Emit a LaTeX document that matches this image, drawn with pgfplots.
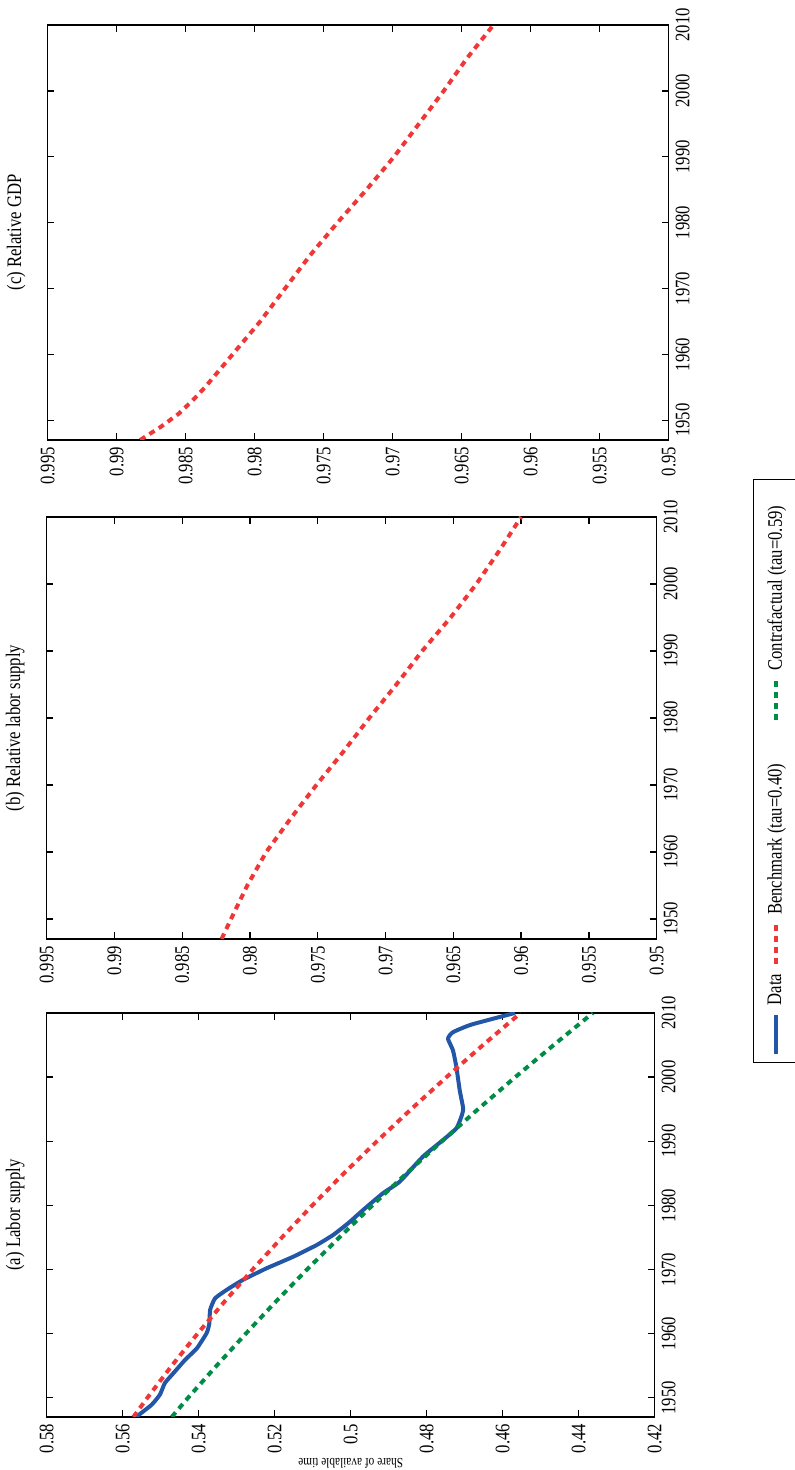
\documentclass[border=0pt]{standalone}
\usepackage{graphicx}
\usepackage{fontspec}
\setmainfont{Liberation Serif}[FakeStretch=0.81]
\usepackage{pgfplots}
\pgfplotsset{compat=1.18}
\definecolor{cblue}{RGB}{33,87,166}
\definecolor{cred}{RGB}{240,55,55}
\definecolor{cgreen}{RGB}{0,140,70}
\pgfplotsset{
  myax/.style={
    scale only axis, anchor=north west,
    xmin=1947, xmax=2010,
    xtick={1950,1960,1970,1980,1990,2000,2010},
    xticklabels={1950,1960,1970,1980,1990,2000,2010},
    axis line style={line width=0.65pt, black},
    every tick/.style={black, line width=0.65pt},
    major tick length=3.3pt,
    tick align=inside,
    title style={at={(0.5,1)}, anchor=center, yshift=9.8pt, font=\fontsize{10.3}{12}\selectfont},
    tick label style={font=\fontsize{10.3}{12}\selectfont},
    legend image code/.code={\draw[#1] (0pt,0pt) -- (19.5pt,0pt);},
  },
  rel/.style={ymin=0.95, ymax=0.995,
    ytick={0.95,0.955,0.96,0.965,0.97,0.975,0.98,0.985,0.99,0.995},
    yticklabels={0.95,0.955,0.96,0.965,0.97,0.975,0.98,0.985,0.99,0.995}},
  datast/.style={cblue, line width=2pt, line join=round},
  benchst/.style={cred, line width=2pt, dash pattern=on 3pt off 2.5pt},
  contst/.style={cgreen, line width=2pt, dash pattern=on 3pt off 2.5pt},
}
\begin{document}
\rotatebox{90}{%
\begin{tikzpicture}
\useasboundingbox (0pt,0pt) rectangle (735pt,-397.5pt);
% (a) Labor supply
\begin{axis}[myax, at={(26.5pt,-23.35pt)}, width=202pt, height=304pt,
  ymin=0.42, ymax=0.58,
  ytick={0.42,0.44,0.46,0.48,0.5,0.52,0.54,0.56,0.58},
  yticklabels={0.42,0.44,0.46,0.48,0.5,0.52,0.54,0.56,0.58},
  title={(a) Labor supply},
  ylabel={Share of available time},
  ylabel style={at={(axis description cs:-0.114,0.5)}, anchor=center, font=\fontsize{7}{8}\selectfont},
  legend columns=3,
  legend style={at={(0.876,-0.161)}, anchor=north west, draw=black, line width=0.65pt,
    inner xsep=3pt, inner ysep=7pt, nodes={inner sep=0pt, text depth=0.15em},
    column sep=4pt, font=\fontsize{10.3}{12}\selectfont},
]
\addplot[datast, smooth, tension=0.3] coordinates {
(1947.0,0.5565) (1948.9,0.5524) (1950.5,0.5502) (1952.3,0.5489) (1953.8,0.5467)
(1955.9,0.5436) (1957.7,0.5405) (1960.1,0.5379) (1961.6,0.5372) (1963.7,0.5370)
(1965.5,0.5357) (1966.8,0.5327) (1968.4,0.5283) (1970.2,0.5221) (1972.0,0.5151)
(1973.8,0.5090) (1975.4,0.5046) (1977.2,0.5007) (1979.3,0.4967) (1981.9,0.4915)
(1983.7,0.4871) (1987.6,0.4810) (1990.2,0.4757) (1992.0,0.4722) (1993.8,0.4709)
(1995.1,0.4704) (1997.9,0.4713) (2001.6,0.4722) (2004.2,0.4731) (2006.0,0.4744)
(2007.0,0.4731) (2008.2,0.4682) (2010.0,0.4568)};
\addlegendentry{Data}
\addplot[benchst] coordinates {
(1947,0.5572) (1950,0.5535) (1955,0.5471) (1960,0.5403) (1965,0.5332)
(1970,0.5258) (1975,0.5181) (1980,0.5101) (1985,0.5018) (1990,0.4931)
(1995,0.4841) (2000,0.4748) (2005,0.4652) (2010,0.4553)};
\addlegendentry{Benchmark (tau=0.40)\hspace{17pt}\mbox{}}
\addplot[contst] coordinates {
(1947,0.5471) (1950,0.5428) (1955,0.5353) (1960,0.5276) (1965,0.5197)
(1970,0.5115) (1975,0.5030) (1980,0.4943) (1985,0.4853) (1990,0.4760)
(1995,0.4665) (2000,0.4567) (2005,0.4466) (2010,0.4363)};
\addlegendentry{Contrafactual (tau=0.59)\hspace{10pt}\mbox{}}
\end{axis}
% (b) Relative labor supply
\begin{axis}[myax, rel, at={(265.5pt,-23.35pt)}, width=211pt, height=305pt,
  title={(b) Relative labor supply}]
\addplot[benchst] coordinates {
(1947,0.9821) (1950,0.9814) (1955,0.9802) (1960,0.9788) (1965,0.9770)
(1970,0.9751) (1975,0.9731) (1980,0.9712) (1985,0.9692) (1990,0.9673)
(1995,0.9652) (2000,0.9633) (2005,0.9616) (2010,0.9600)};
\end{axis}
% (c) Relative GDP
\begin{axis}[myax, rel, at={(515pt,-23.85pt)}, width=207.5pt, height=310.5pt,
  title={(c) Relative GDP}]
\addplot[benchst] coordinates {
(1947,0.9883) (1949,0.9868) (1951,0.9855) (1953,0.9845) (1955,0.9836)
(1957,0.9828) (1960,0.9816) (1965,0.9796) (1970,0.9778) (1975,0.9760)
(1980,0.9740) (1985,0.9719) (1990,0.9699) (1995,0.9681) (2000,0.9663)
(2005,0.9646) (2010,0.9627)};
\end{axis}
\end{tikzpicture}}
\end{document}
